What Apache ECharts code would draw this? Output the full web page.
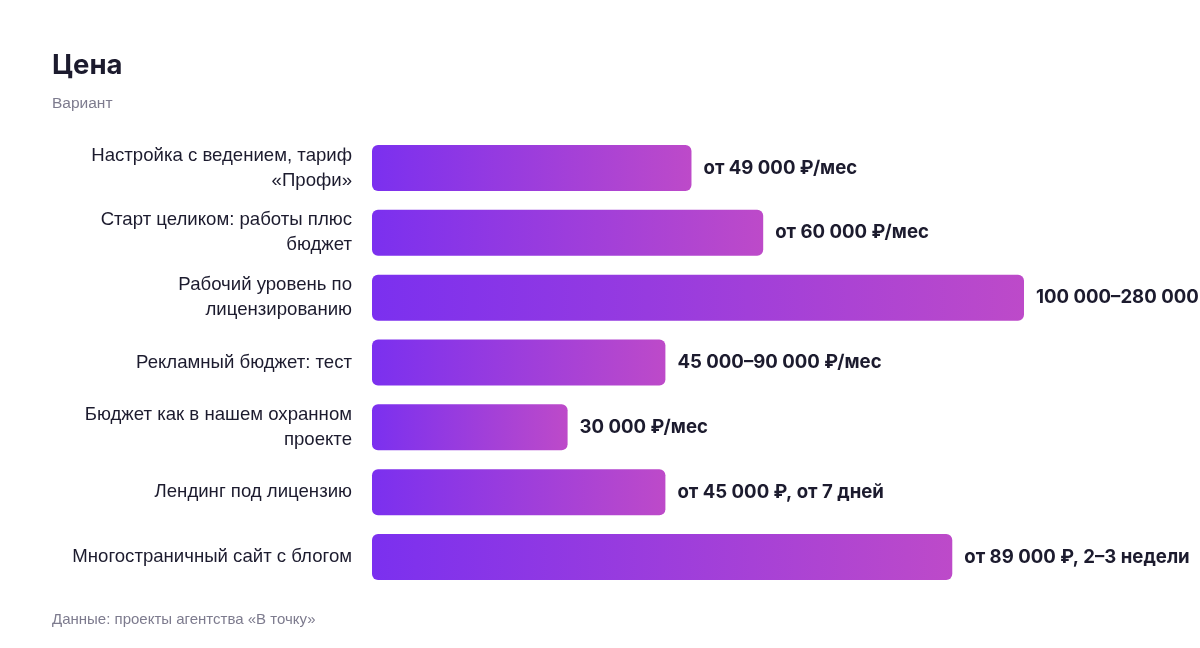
<!DOCTYPE html>
<html>
<head>
<meta charset="utf-8">
<script src="https://cdn.jsdelivr.net/npm/echarts@6/dist/echarts.min.js"></script>
<style>html,body{margin:0;padding:0;background:#fff;}#c{width:1200px;height:648px;}</style>
</head>
<body>
<div id="c"></div>
<script>
const categories = [
  "Настройка с ведением, тариф\n«Профи»",
  "Старт целиком: работы плюс\nбюджет",
  "Рабочий уровень по\nлицензированию",
  "Рекламный бюджет: тест",
  "Бюджет как в нашем охранном\nпроекте",
  "Лендинг под лицензию",
  "Многостраничный сайт с блогом"
];
const values = [49000, 60000, 100000, 45000, 30000, 45000, 89000];
const valueLabels = [
  "от 49 000 ₽/мес",
  "от 60 000 ₽/мес",
  "100 000–280 000 ₽/мес",
  "45 000–90 000 ₽/мес",
  "30 000 ₽/мес",
  "от 45 000 ₽, от 7 дней",
  "от 89 000 ₽, 2–3 недели"
];

const chart = echarts.init(document.getElementById('c'));
const grad = new echarts.graphic.LinearGradient(0, 0, 1, 0, [
  {offset: 0, color: '#7b30ef'},
  {offset: 1, color: '#bd4ac9'}
]);
chart.setOption({
  backgroundColor: '#ffffff',
  animation: false,
  title: [
    {text: 'Цена', left: 52, top: 52, padding: 0, textStyle: {fontFamily: 'Inter', fontWeight: 'bold', fontSize: 27.5, color: '#1c1b2e'}},
    {text: 'Вариант', left: 52, top: 96, padding: 0, textStyle: {fontFamily: 'Liberation Sans', fontWeight: 'normal', fontSize: 15.5, color: '#7d7b8e'}},
    {text: 'Данные: проекты агентства «В точку»', left: 52, top: 612, padding: 0, textStyle: {fontFamily: 'Liberation Sans', fontWeight: 'normal', fontSize: 15, color: '#7d7b8e'}}
  ],
  grid: {left: 372, right: 176, top: 135.5, bottom: 58.5, containLabel: false},
  xAxis: {type: 'value', min: 0, max: 100000, show: false},
  yAxis: {
    type: 'category', inverse: true, data: categories,
    axisLine: {show: false}, axisTick: {show: false}, splitLine: {show: false},
    axisLabel: {margin: 20, fontFamily: 'Liberation Sans', fontSize: 18.6, color: '#1c1b2e', lineHeight: 25, align: 'right'}
  },
  series: [{
    type: 'bar',
    data: values,
    barWidth: 46,
    itemStyle: {color: grad, borderRadius: 6},
    label: {
      show: true, position: 'right', distance: 12,
      formatter: p => valueLabels[p.dataIndex],
      fontFamily: 'Inter', fontWeight: 'bold', fontSize: 18.6, color: '#1c1b2e'
    }
  }]
});
</script>
</body>
</html>
